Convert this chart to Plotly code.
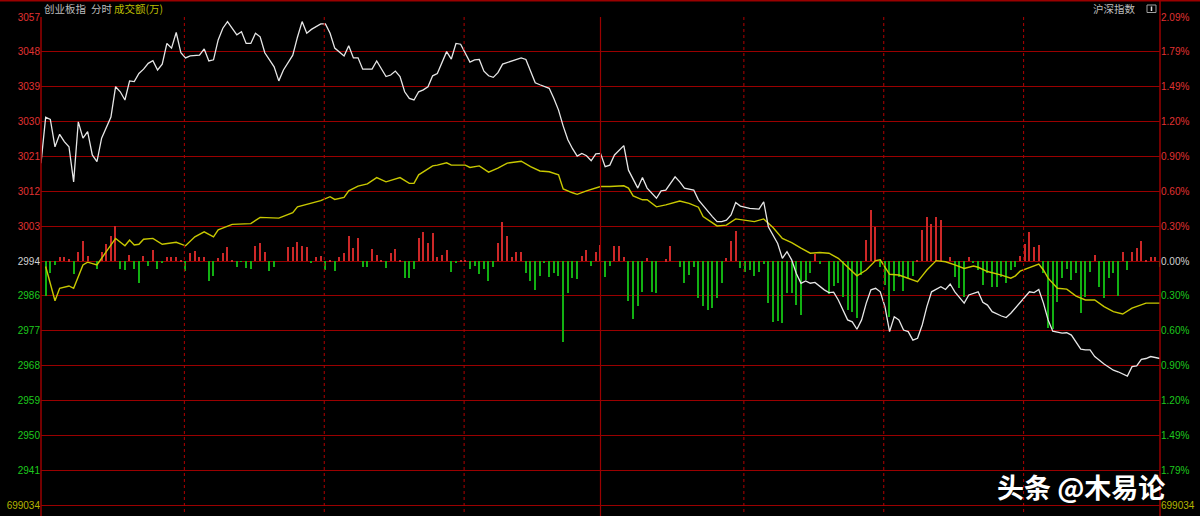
import plotly.graph_objects as go

# ---------------- data ----------------
base = 2994.4          # previous close
step = 8.94            # one grid step (~0.30%)

white_min = [0,1,2,3,4,5,6,7,8,9,10,11,12,13,15,16,17,18,19,20,21,22,23,24,25,26,27,28,29,30,
             31,32,34,35,36,37,38,39,40,41,42,43,44,45,46,47,48,50,51,52,54,55,56,57,58,60,61,62,63,65,
             66,67,68,69,71,72,74,75,76,77,78,79,80,81,82,83,84,85,86,87,88,89,90,91,92,93,94,95,96,97,
             98,99,101,103,104,105,106,107,109,110,111,112,113,114,115,116,117,118,119,120,121,122,123,125,
             126,128,129,130,132,133,134,136,137,138,140,141,143,144,145,146,147,148,149,150,152,154,155,156,
             158,159,160,161,162,163,164,165,166,168,169,170,171,173,174,175,176,177,178,179,180,181,182,183,
             184,185,186,187,188,189,190,191,193,194,195,196,198,199,201,202,203,204,206,207,208,209,211,212,
             213,214,215,216,217,219,220,221,223,224,225,226,228,230,231,233,234,235,236,237,238,240]
white_val = [3019.5,3031.3,3030.7,3023.7,3026.9,3025.0,3023.7,3014.7,3030.1,3025.9,3027.6,3021.6,3019.9,3025.9,
             3031.3,3039.1,3037.8,3035.7,3040.6,3040.4,3042.5,3043.6,3045.1,3045.8,3043.4,3044.9,3050.2,3049.0,
             3053.0,3047.8,3046.5,3047.0,3047.2,3048.8,3045.7,3046.0,3051.1,3054.1,3055.8,3054.1,3052.4,3053.2,
             3050.2,3050.2,3052.8,3051.9,3047.8,3044.2,3040.6,3043.4,3047.2,3051.8,3055.8,3052.8,3053.8,3055.2,
             3055.2,3052.8,3049.0,3047.0,3049.6,3046.5,3046.5,3043.6,3043.6,3045.7,3041.7,3042.1,3043.1,3041.7,
             3037.8,3036.1,3035.7,3037.8,3038.3,3039.1,3041.9,3042.5,3045.1,3048.1,3046.2,3050.2,3050.0,3047.7,
             3045.4,3046.0,3046.1,3043.1,3041.9,3041.5,3042.7,3044.9,3045.7,3046.5,3046.1,3043.0,3040.1,3039.6,
             3038.7,3036.1,3033.1,3029.0,3025.5,3023.2,3021.3,3022.0,3021.4,3020.1,3021.9,3022.0,3018.6,3019.0,
             3021.6,3024.0,3017.7,3013.1,3015.8,3013.1,3010.5,3012.4,3012.6,3016.0,3014.7,3013.1,3012.6,3010.1,
             3007.1,3005.8,3004.5,3004.5,3004.9,3006.2,3009.4,3008.5,3007.9,3007.7,3009.6,3003.2,2998.9,2995.1,
             2996.8,2994.7,2991.2,2988.7,2989.3,2988.7,2988.9,2987.0,2986.3,2986.4,2984.4,2979.3,2978.8,2976.9,
             2979.3,2983.6,2987.0,2987.4,2986.5,2982.7,2976.3,2980.1,2979.3,2976.7,2976.3,2974.1,2974.6,2978.0,
             2982.7,2986.5,2987.8,2987.1,2988.5,2986.5,2983.6,2985.7,2986.5,2983.8,2983.1,2981.4,2980.3,2979.9,
             2981.0,2982.4,2985.2,2986.5,2986.3,2987.1,2983.6,2979.3,2976.4,2975.9,2976.0,2975.4,2971.8,2971.6,
             2971.6,2969.9,2968.0,2966.4,2966.0,2964.9,2967.3,2967.5,2969.2,2969.4,2969.9,2969.4]

avg_min = [1,3,4,6,7,9,10,12,14,16,18,19,20,21,22,24,26,29,31,33,35,37,38,41,45,47,51,54,55,60,
           62,63,65,66,68,70,72,74,77,79,80,81,84,85,87,88,91,92,94,96,98,100,103,105,107,109,111,112,114,115,
           117,120,122,125,126,127,129,130,132,134,137,139,141,142,145,147,149,151,153,155,157,159,161,163,165,167,169,171,173,175,
           177,179,180,181,182,184,186,188,189,190,192,194,196,198,200,201,203,206,208,209,210,213,214,215,216,218,220,222,224,226,
           228,230,232,234,237,240]
avg_val = [2993.0,2984.2,2987.4,2988.0,2987.4,2993.4,2994.1,2993.4,2996.8,3000.2,2998.3,2999.8,2998.5,2998.7,3000.0,
           3000.2,2998.7,2999.2,2998.3,3000.6,3001.9,3000.6,3002.4,3003.8,3004.0,3005.6,3005.4,3006.8,3008.3,3009.9,
           3010.9,3010.2,3010.7,3012.4,3013.6,3014.2,3015.8,3014.7,3015.8,3014.3,3014.3,3016.5,3018.8,3019.0,3019.6,
           3019.0,3019.0,3018.4,3018.8,3017.2,3018.2,3019.5,3020.0,3018.6,3017.5,3017.3,3016.5,3012.9,3011.9,3011.5,
           3012.4,3013.5,3013.5,3013.7,3013.1,3011.1,3010.1,3010.1,3008.3,3008.8,3009.8,3009.2,3008.2,3005.8,3003.4,
           3003.6,3005.2,3004.9,3004.5,3005.2,3003.0,3000.2,2999.1,2997.7,2996.4,2996.6,2996.4,2995.1,2992.9,2990.6,
           2992.1,2994.5,2994.7,2992.9,2991.0,2990.8,2990.0,2989.1,2990.6,2992.1,2994.5,2994.2,2993.4,2992.5,2993.1,
           2992.8,2991.7,2990.8,2990.0,2990.6,2991.8,2993.2,2993.6,2992.1,2990.0,2987.4,2987.2,2985.4,2984.4,2984.4,
           2982.7,2981.4,2980.8,2982.3,2983.6,2983.6]

bar_min = [1,2,3,4,5,6,7,8,9,10,12,13,14,15,16,17,18,19,20,21,22,23,24,25,26,27,28,29,30,31,32,33,34,35,36,37,38,39,40,
           41,42,43,44,45,46,47,48,49,50,53,54,55,56,57,58,59,
           60,61,62,63,64,65,66,67,68,69,70,71,72,73,74,75,76,77,78,79,80,81,82,83,84,85,86,87,88,89,90,91,92,93,94,95,
           96,97,98,99,100,101,102,103,104,105,106,107,108,109,110,111,112,113,114,115,116,117,118,119,120,
           121,122,123,124,125,126,127,128,129,130,131,132,134,135,137,138,139,140,141,142,143,144,145,146,147,148,149,
           150,151,152,153,154,155,156,157,158,159,160,161,162,163,164,165,166,167,169,170,171,172,173,174,175,176,177,178,179,
           180,181,182,183,184,185,186,187,188,189,190,191,192,193,195,196,197,198,199,200,201,202,203,204,205,206,207,208,209,
           210,211,212,213,214,215,216,217,218,219,220,221,222,223,224,225,226,227,228,229,230,231,232,233,234,235,236,237,238,239,240]
bar_val = [-8.98,-3.15,-1.03,0.95,0.95,0.51,-3.33,2.23,5.13,1.28,-2.13,2.23,4.28,6.41,8.98,-2.13,-2.31,1.54,-2.13,-5.72,
           1.28,-1.21,2.82,-2.13,-0.59,1.1,0.95,1.1,0.26,-2.57,1.98,2.64,0.95,1.1,-5.05,-3.85,0.69,1.98,3.67,
           0.26,-1.46,-0.2,-1.72,-2.05,3.85,4.69,2.23,-2.49,-1.62,3.51,3.51,4.95,3.85,3.67,-0.33,1.1,
           1.28,-2.31,0.33,-2.57,1.1,1.98,6.41,3.26,5.98,-1.62,-1.62,3.08,1.54,0.2,-1.72,2.13,3.08,0.26,-4.28,-4.28,
           -2.05,5.82,7.52,4.69,7.26,0.95,1.54,2.82,-2.9,-0.51,0.18,0.18,-2.13,-1.21,-3.33,-2.05,
           -5.13,-1.62,4.54,10.08,6.49,1.1,2.39,2.23,-3.0,-5.13,-7.44,-3.85,-0.51,-4.03,-3.0,-3.77,-20.85,-8.13,-4.28,
           -4.62,1.28,2.82,-1.21,2.39,4.1,
           -4.03,-1.28,3.85,3.85,0.95,-10.26,-14.95,-11.54,-7.87,0.69,-7.87,-8.13,0.44,3.85,-1.62,-5.72,-3.59,-1.46,
           -9.57,-11.54,-12.57,-11.98,-9.57,-5.72,0.69,5.13,7.7,
           -1.87,-2.9,-2.31,-3.85,-2.74,-0.77,-10.85,-15.57,-15.39,-15.98,-8.13,-8.28,-11.29,-13.85,-4.87,-3.15,1.8,
           -0.77,-8.54,-6.41,-5.72,-9.16,-12.57,-13.0,-14.7,-3.59,5.39,13.08,8.64,
           -1.46,-6.16,-14.29,-7.62,-4.03,-7.62,-4.44,-3.85,0.2,7.95,11.21,9.49,11.36,10.52,1.1,-4.03,-7.0,-9.16,0.95,
           -0.59,-2.31,-6.16,-3.15,-6.59,-6.59,-4.18,-5.72,-2.31,-1.46,
           1.28,4.44,7.52,3.51,4.1,-3.15,-17.26,-17.52,-10.44,-4.44,-2.13,-4.87,-3.15,-13.41,-9.16,-2.74,1.54,-6.75,
           -9.57,-4.44,-3.15,-8.9,2.39,-2.31,2.39,3.41,5.13,0.33,1.1,1.1,-1.46]

left_labels = ["699034", "2941", "2950", "2959", "2968", "2977", "2986", "2994",
               "3003", "3012", "3021", "3030", "3039", "3048", "3057"]
right_labels = ["699034", "1.79%", "1.49%", "1.20%", "0.90%", "0.60%", "0.30%", "0.00%",
                "0.30%", "0.60%", "0.90%", "1.20%", "1.49%", "1.79%", "2.09%"]
grid_steps = list(range(-7, 8))

# ---------------- styling ----------------
W, H = 1200, 516
ML, MR, MT, MB = 41, 40, 17, 4
PW, PH = W - ML - MR, H - MT - MB
PX_PER_PT = 34.86 / step
y_top = base + 7 * step
y_bot = y_top - PH / PX_PER_PT

RED = "#e03232"
GREEN = "#1ec81e"
GRAY = "#d2d2d2"
OLIVE = "#b4b400"
GRID = "#9a0000"


def col_for(k):
    if k == -7:
        return OLIVE
    if k > 0:
        return RED
    if k < 0:
        return GREEN
    return GRAY


tickvals = [base + k * step for k in grid_steps]
left_text = ['<span style="color:%s">%s</span>' % (col_for(k), t) for k, t in zip(grid_steps, left_labels)]
right_text = ['<span style="color:%s">%s</span>' % (col_for(k), t) for k, t in zip(grid_steps, right_labels)]

bar_colors = ["#cc2828" if v > 0 else "#12b012" for v in bar_val]

fig = go.Figure()
fig.add_trace(go.Bar(x=bar_min, y=bar_val, base=base, width=0.26,
                     marker=dict(color=bar_colors, line=dict(width=0)),
                     hoverinfo="skip"))
fig.add_trace(go.Scatter(x=avg_min, y=avg_val, mode="lines",
                         line=dict(color="#c8c800", width=1.4), hoverinfo="skip"))
fig.add_trace(go.Scatter(x=white_min, y=white_val, mode="lines",
                         line=dict(color="#e6e6e6", width=1.3), hoverinfo="skip"))
fig.add_trace(go.Scatter(x=[0], y=[base], yaxis="y2", mode="markers",
                         marker=dict(opacity=0), hoverinfo="skip"))


def px_x(x):
    return (x - ML) / PW


def px_y(y):
    return (H - MB - y) / PH


shapes = []
for m in [30, 60, 90, 150, 180, 210]:
    shapes.append(dict(type="line", xref="x", yref="paper", x0=m + 0.75, x1=m + 0.75, y0=0, y1=1,
                       line=dict(color="#b00000", width=1, dash="dot")))
shapes.append(dict(type="line", xref="x", yref="paper", x0=120, x1=120, y0=px_y(516), y1=1,
                   line=dict(color=GRID, width=1.2)))
shapes.append(dict(type="line", xref="paper", yref="paper", x0=0, x1=0, y0=px_y(516), y1=1,
                   line=dict(color=GRID, width=1.5)))
shapes.append(dict(type="line", xref="paper", yref="paper", x0=1, x1=1, y0=px_y(516), y1=px_y(0),
                   line=dict(color=GRID, width=1.5)))
shapes.append(dict(type="line", xref="paper", yref="paper", x0=px_x(0), x1=px_x(1200), y0=px_y(0.8), y1=px_y(0.8),
                   line=dict(color=GRID, width=1.5)))
# small toggle box next to 沪深指数
shapes.append(dict(type="rect", xref="paper", yref="paper", x0=px_x(1147), x1=px_x(1156), y0=px_y(12.5), y1=px_y(5),
                   line=dict(color="#a0a0a0", width=1), fillcolor="black"))
shapes.append(dict(type="line", xref="paper", yref="paper", x0=px_x(1151.5), x1=px_x(1151.5), y0=px_y(11), y1=px_y(6.5),
                   line=dict(color="#e0e0e0", width=1.5)))

CJK = "Noto Sans CJK SC"
ann = [
    dict(text="创业板指", x=px_x(42), y=px_y(9), xanchor="left", yanchor="middle",
         font=dict(family=CJK, size=10.5, color="#bdbdbd")),
    dict(text="分时", x=px_x(89), y=px_y(9), xanchor="left", yanchor="middle",
         font=dict(family=CJK, size=10.5, color="#bdbdbd")),
    dict(text="成交额(万)", x=px_x(112), y=px_y(9), xanchor="left", yanchor="middle",
         font=dict(family=CJK, size=10.5, color="#bcbc00")),
    dict(text="沪深指数", x=px_x(1138), y=px_y(9), xanchor="right", yanchor="middle",
         font=dict(family=CJK, size=10.5, color="#bdbdbd")),
    dict(text="头条 @木易论", x=px_x(1081), y=px_y(486), xanchor="center", yanchor="middle",
         font=dict(family=CJK, size=27, color="#ffffff", weight="bold")),
]
for a in ann:
    a.update(xref="paper", yref="paper", showarrow=False)

tickfont = dict(family="Liberation Sans, Arial, sans-serif", size=10)
fig.update_layout(
    width=W, height=H,
    margin=dict(l=ML, r=MR, t=MT, b=MB, pad=0, autoexpand=False),
    paper_bgcolor="black", plot_bgcolor="black",
    showlegend=False,
    bargap=0,
    xaxis=dict(range=[0, 240], showgrid=False, zeroline=False, showticklabels=False,
               showline=False, fixedrange=True, automargin=False),
    yaxis=dict(range=[y_bot, y_top], tickmode="array", tickvals=tickvals, ticktext=left_text,
               showgrid=True, gridcolor=GRID, gridwidth=1.2, zeroline=False, showline=False,
               ticks="", tickfont=tickfont, fixedrange=True, automargin=False),
    yaxis2=dict(range=[y_bot, y_top], overlaying="y", side="right", tickmode="array",
                tickvals=tickvals, ticktext=right_text, showgrid=False, zeroline=False,
                showline=False, ticks="", tickfont=tickfont, fixedrange=True, automargin=False),
    shapes=shapes,
    annotations=ann,
)

fig.write_html("out.html", config={"displayModeBar": False},
               post_script="document.body.style.margin='0';document.body.style.overflow='hidden';"
                           "document.body.style.background='black';")
